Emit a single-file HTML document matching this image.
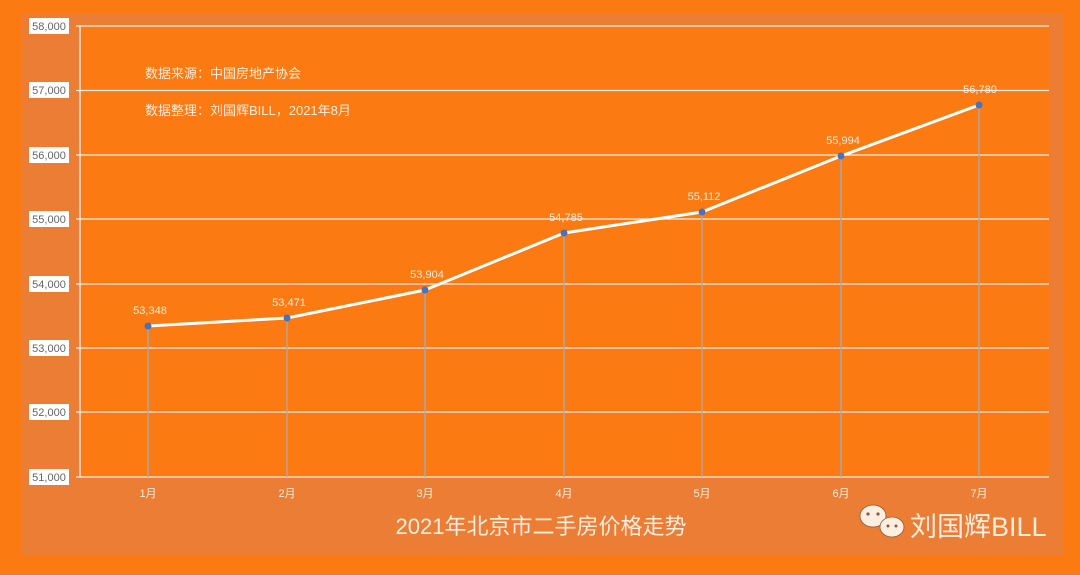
<!DOCTYPE html>
<html><head><meta charset="utf-8"><style>
body{margin:0;width:1080px;height:575px;overflow:hidden;background:#fc7a12;font-family:"Liberation Sans","Noto Sans CJK SC",sans-serif}
</style></head><body>
<svg width="1080" height="575" xmlns="http://www.w3.org/2000/svg" style="position:absolute;left:0;top:0">
<rect x="21" y="13" width="1042" height="542" fill="#ec7d34"/>
<rect x="80" y="26" width="969" height="451" fill="#fc7a12"/>
<g stroke="#f4f0ec" stroke-width="1.3">
<line x1="76" y1="26" x2="1049" y2="26"/><line x1="76" y1="90.5" x2="1049" y2="90.5"/>
<line x1="76" y1="155" x2="1049" y2="155"/><line x1="76" y1="219" x2="1049" y2="219"/>
<line x1="76" y1="284" x2="1049" y2="284"/><line x1="76" y1="348" x2="1049" y2="348"/>
<line x1="76" y1="412" x2="1049" y2="412"/><line x1="76" y1="477" x2="1049" y2="477"/>
<line x1="80" y1="26" x2="80" y2="477"/>
</g>
<g font-size="11" fill="#666" text-anchor="middle">
<g fill="#fff"><rect x="29" y="18" width="40" height="16"/><rect x="29" y="82" width="40" height="16"/><rect x="29" y="147" width="40" height="16"/><rect x="29" y="211" width="40" height="16"/><rect x="29" y="276" width="40" height="16"/><rect x="29" y="340" width="40" height="16"/><rect x="29" y="404" width="40" height="16"/><rect x="29" y="469" width="40" height="16"/></g>
<text x="49" y="30">58,000</text><text x="49" y="94">57,000</text><text x="49" y="159">56,000</text><text x="49" y="223">55,000</text><text x="49" y="288">54,000</text><text x="49" y="352">53,000</text><text x="49" y="416">52,000</text><text x="49" y="481">51,000</text>
</g>
<g stroke="#a8a8a8" stroke-width="1.5">
<line x1="148" y1="326" x2="148" y2="477"/><line x1="287" y1="318" x2="287" y2="477"/><line x1="425" y1="290" x2="425" y2="477"/><line x1="564" y1="233" x2="564" y2="477"/><line x1="702" y1="212" x2="702" y2="477"/><line x1="841" y1="156" x2="841" y2="477"/><line x1="979" y1="105" x2="979" y2="477"/>
</g>
<polyline points="148,326 287,318 425,290 564,233 702,212 841,156 979,105" fill="none" stroke="#fff" stroke-width="3" stroke-linejoin="round"/>
<g fill="#4472c4"><circle cx="148" cy="326" r="3.5"/><circle cx="287" cy="318" r="3.5"/><circle cx="425" cy="290" r="3.5"/><circle cx="564" cy="233" r="3.5"/><circle cx="702" cy="212" r="3.5"/><circle cx="841" cy="156" r="3.5"/><circle cx="979" cy="105" r="3.5"/></g>
<g font-size="11" fill="#fdeee0" text-anchor="middle">
<text x="150" y="314">53,348</text><text x="289" y="306">53,471</text><text x="427" y="278">53,904</text><text x="566" y="221">54,785</text><text x="704" y="200">55,112</text><text x="843" y="144">55,994</text><text x="980" y="93">56,780</text>
<text x="148" y="497">1月</text><text x="287" y="497">2月</text><text x="425" y="497">3月</text><text x="564" y="497">4月</text><text x="702" y="497">5月</text><text x="841" y="497">6月</text><text x="979" y="497">7月</text>
</g>
<g font-size="13" fill="#fdeee0"><text x="145" y="78">数据来源：中国房地产协会</text><text x="145" y="115">数据整理：刘国辉BILL，2021年8月</text></g>
<text x="541" y="534" font-size="22" fill="#fdeee0" text-anchor="middle">2021年北京市二手房价格走势</text>
<g fill="#fdeee0" stroke="#8a5a3a" stroke-width="0.8"><ellipse cx="873" cy="516" rx="13" ry="11"/><ellipse cx="892" cy="527" rx="12" ry="10"/></g>
<g fill="#8a5a3a"><circle cx="868" cy="514" r="1.6"/><circle cx="878" cy="514" r="1.6"/><circle cx="888" cy="526" r="1.5"/><circle cx="896" cy="526" r="1.5"/></g>
<text x="910" y="536" font-size="27" fill="#fdeee0">刘国辉BILL</text>
</svg>
</body></html>
